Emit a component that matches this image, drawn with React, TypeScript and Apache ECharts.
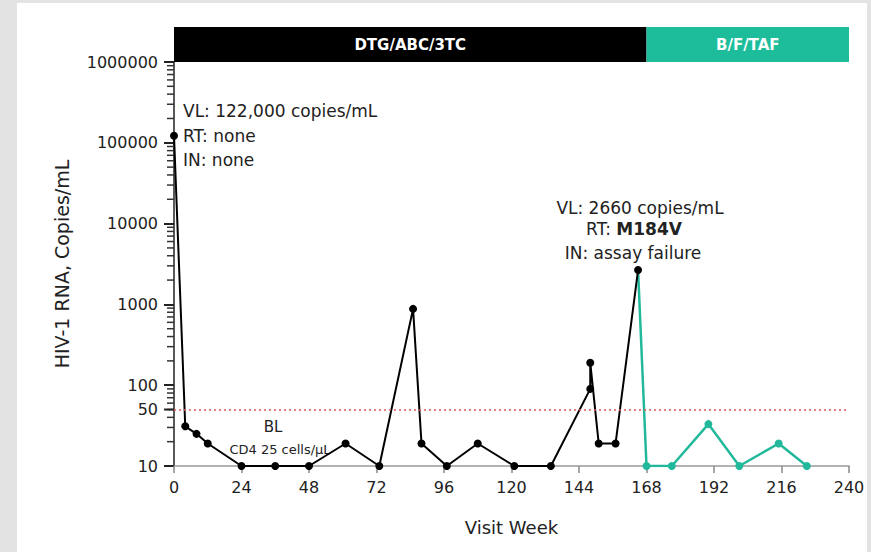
import React, { useEffect, useRef } from "react";
import * as echarts from "echarts";

// ---- data ----
const weeksDTG = [0, 4, 8, 12, 24, 36, 48, 61, 73, 85, 88, 97, 108, 121, 134, 148, 148, 151, 157, 165];
const vlDTG = [122000, 31, 25, 19, 10, 10, 10, 19, 10, 880, 19, 10, 19, 10, 10, 90, 190, 19, 19, 2660];
const weeksBFT = [165, 168, 177, 190, 201, 215, 225];
const vlBFT = [2660, 10, 10, 33, 10, 19, 10];
const xTicks = [0, 24, 48, 72, 96, 120, 144, 168, 192, 216, 240];
const yMajor = [10, 100, 1000, 10000, 100000, 1000000];
const minorMult = [2, 3, 4, 5, 6, 7, 8, 9];
const lloq = 50;
const regimens = [
  { name: "DTG/ABC/3TC", from: 0, to: 168, color: "#000000" },
  { name: "B/F/TAF", from: 168, to: 240, color: "#1dbd9b" },
];

const FONT = "DejaVu Sans";

export default function App() {
  const ref = useRef<HTMLDivElement>(null);
  useEffect(() => {
    document.body.style.margin = "0";
    if (!ref.current) return;
    const chart = echarts.init(ref.current, undefined, { renderer: "svg" });
    const minorVals: number[] = [];
    for (let k = 0; k < yMajor.length - 1; k++) {
      for (const m of minorMult) minorVals.push(yMajor[k] * m);
    }
    chart.setOption({
      animation: false,
      grid: { left: 174, top: 62, width: 675, height: 404 },
      xAxis: {
        type: "value",
        min: xTicks[0],
        max: xTicks[xTicks.length - 1],
        interval: 24,
        name: "Visit Week",
        nameLocation: "middle",
        nameGap: 52,
        nameTextStyle: { fontFamily: FONT, fontSize: 18, color: "#222" },
        axisLine: { show: true, lineStyle: { color: "#999", width: 1.5 } },
        axisTick: { show: true, length: 7, lineStyle: { color: "#888", width: 1.5 } },
        axisLabel: { fontFamily: FONT, fontSize: 16, color: "#222", margin: 13 },
        splitLine: { show: false },
      },
      yAxis: {
        type: "log",
        logBase: 10,
        min: 10,
        max: 1000000,
        name: "HIV-1 RNA, Copies/mL",
        nameLocation: "middle",
        nameGap: 103,
        nameTextStyle: { fontFamily: FONT, fontSize: 19, color: "#222" },
        axisLine: { show: true, lineStyle: { color: "#222", width: 1.5 } },
        axisTick: { show: true, length: 10, lineStyle: { color: "#222", width: 2 } },
        axisLabel: {
          fontFamily: FONT,
          fontSize: 16,
          color: "#222",
          margin: 16,
          formatter: (v: number) => String(Math.round(v)),
        },
        splitLine: { show: false },
      },
      series: [
        {
          type: "line",
          z: 3,
          data: weeksBFT.map((w, i) =>
            i === 0 ? { value: [w, vlBFT[i]], symbol: "none" } : [w, vlBFT[i]]
          ),
          symbol: "circle",
          symbolSize: 8,
          itemStyle: { color: "#22b89c" },
          lineStyle: { color: "#22b89c", width: 2.5 },
          markLine: {
            silent: true,
            symbol: "none",
            label: { show: false },
            lineStyle: { color: "#e05555", type: [2, 3], width: 1.5 },
            data: [{ yAxis: lloq }],
          },
        },
        {
          type: "line",
          z: 4,
          data: weeksDTG.map((w, i) => [w, vlDTG[i]]),
          symbol: "circle",
          symbolSize: 8,
          itemStyle: { color: "#000" },
          lineStyle: { color: "#000", width: 2 },
        },
      ],
    });

    const px = (x: number, y: number) => chart.convertToPixel({ gridIndex: 0 }, [x, y]) as number[];
    const top = px(0, 1000000);
    const barTop = 27;
    const gfx: any[] = [];
    minorVals.forEach((v) => {
      const q = px(0, v);
      gfx.push({
        type: "rect",
        z: 100,
        shape: { x: q[0] - 7, y: q[1] - 0.75, width: 7, height: 1.5 },
        style: { fill: "#333" },
      });
    });
    const p50 = px(0, lloq);
    gfx.push({
      type: "rect",
      z: 100,
      shape: { x: p50[0] - 10, y: p50[1] - 1, width: 10, height: 2 },
      style: { fill: "#222" },
    });
    gfx.push({
      type: "text",
      x: p50[0] - 16,
      y: p50[1],
      style: {
        text: String(lloq),
        fontFamily: FONT,
        fontSize: 16,
        fill: "#222",
        align: "right",
        verticalAlign: "middle",
      },
    });
    regimens.forEach((r) => {
      const a = px(r.from, 1000000);
      const b = px(r.to, 1000000);
      gfx.push({
        type: "rect",
        shape: { x: a[0], y: barTop, width: b[0] - a[0], height: top[1] - barTop },
        style: { fill: r.color },
      });
      gfx.push({
        type: "text",
        x: (a[0] + b[0]) / 2,
        y: (barTop + top[1]) / 2,
        style: {
          text: r.name,
          fontFamily: FONT,
          fontWeight: "bold",
          fontSize: 15,
          fill: "#fff",
          align: "center",
          verticalAlign: "middle",
        },
      });
    });
    const txt = (text: string, x: number, y: number, align: string, size = 17, rich?: any) => ({
      type: "text",
      x,
      y,
      style: {
        text,
        fontFamily: FONT,
        fontSize: size,
        fill: "#222",
        align,
        verticalAlign: "middle",
        rich,
      },
    });
    gfx.push(txt("VL: 122,000 copies/mL", 183, 111, "left"));
    gfx.push(txt("RT: none", 183, 136, "left"));
    gfx.push(txt("IN: none", 183, 160, "left"));
    gfx.push(txt("VL: 2660 copies/mL", 640, 208, "center"));
    gfx.push(
      txt("{n|RT: }{b|M184V}", 634, 229, "center", 17, {
        n: { fontFamily: FONT, fontSize: 17, fill: "#222" },
        b: { fontFamily: FONT, fontSize: 17, fill: "#222", fontWeight: "bold" },
      })
    );
    gfx.push(txt("IN: assay failure", 633, 253, "center"));
    gfx.push(txt("BL", 273, 427, "center", 15));
    gfx.push(txt("CD4 25 cells/µL", 280, 449, "center", 13));
    chart.setOption({ graphic: gfx });

    return () => chart.dispose();
  }, []);

  return (
    <div style={{ position: "relative", width: 871, height: 552, background: "#e3e3e3" }}>
      <div style={{ position: "absolute", left: 17, top: 3, width: 850, height: 549, background: "#fff" }} />
      <div ref={ref} style={{ position: "absolute", left: 0, top: 0, width: 871, height: 552 }} />
    </div>
  );
}
